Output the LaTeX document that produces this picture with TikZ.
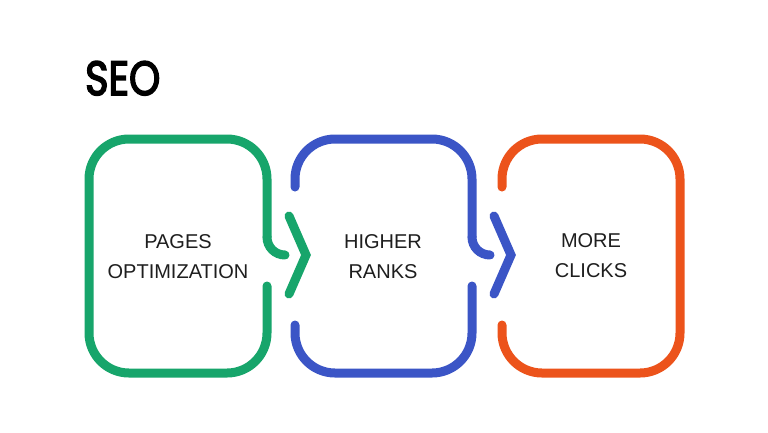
\documentclass[tikz,border=0pt]{standalone}
\usepackage{fontspec}
\setmainfont{Liberation Sans}
\newfontfamily\titlefont[FakeBold=3.5]{Poppins}
\definecolor{cgreen}{HTML}{17A56B}
\definecolor{cblue}{HTML}{3B55C6}
\definecolor{corange}{HTML}{EC531B}
\definecolor{ctext}{HTML}{1E1E1E}
\begin{document}
\begin{tikzpicture}[x=1pt,y=-1pt,
  boxline/.style={line width=9pt,line cap=round,line join=round,rounded corners=40pt},
  curlline/.style={line width=9pt,line cap=round},
  chevline/.style={line width=9pt,line cap=round,line join=miter},
  txt/.style={font=\fontsize{20}{30}\selectfont,text=ctext,align=center}]
\useasboundingbox[fill=white] (0,0) rectangle (768,432);
% title
\node[anchor=base west,inner sep=0pt,font=\titlefont\fontsize{48}{48}\selectfont,text=black] (title) at (85,95) {\scalebox{0.83}[1]{SEO}};
% green box
\draw[boxline,cgreen] (267,286) -- (267,373) -- (89,373) -- (89,139) -- (267,139) -- (267,237);
\draw[curlline,cgreen] (267,237) .. controls (267,247) and (275,255) .. (285,255);
\draw[chevline,cgreen] (289,216) -- (306,255) -- (289,294);
% blue box
\draw[boxline,cblue] (295,187) -- (295,139) -- (472,139) -- (472,237);
\draw[curlline,cblue] (472,237) .. controls (472,247) and (480,255) .. (490,255);
\draw[boxline,cblue] (472,286) -- (472,373) -- (295,373) -- (295,325);
\draw[chevline,cblue] (494,216) -- (511,255) -- (494,294);
% orange box
\draw[boxline,corange] (502,187) -- (502,139) -- (680,139) -- (680,373) -- (502,373) -- (502,325);
% labels
\node[txt] (t1) at (178,257) {PAGES\\OPTIMIZATION};
\node[txt] (t2) at (383,257) {HIGHER\\RANKS};
\node[txt] (t3) at (591,256) {MORE\\CLICKS};
\end{tikzpicture}
\end{document}
